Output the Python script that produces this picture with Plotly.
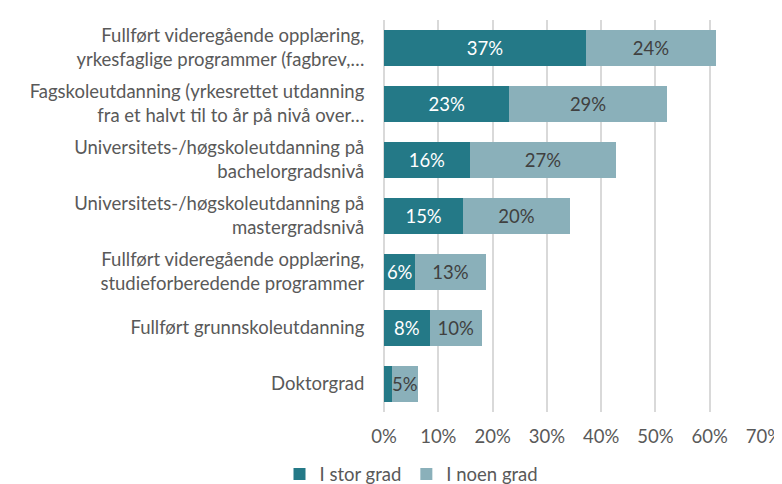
import plotly.graph_objects as go

categories = [
    "Fullført videregående opplæring,<br>yrkesfaglige programmer (fagbrev,…",
    "Fagskoleutdanning (yrkesrettet utdanning<br>fra et halvt til to år på nivå over…",
    "Universitets-/høgskoleutdanning på<br>bachelorgradsnivå",
    "Universitets-/høgskoleutdanning på<br>mastergradsnivå",
    "Fullført videregående opplæring,<br>studieforberedende programmer",
    "Fullført grunnskoleutdanning",
    "Doktorgrad",
]
stor_grad = [37.2, 23.1, 15.8, 14.6, 5.8, 8.4, 1.4]
noen_grad = [24.0, 29.0, 27.0, 19.6, 12.9, 9.6, 4.9]
series_names = ["I stor grad", "I noen grad"]
tick_vals = [0, 10, 20, 30, 40, 50, 60, 70]
tick_text = [f"{v}%" for v in tick_vals]

dark = "#247987"
light = "#8AB0BA"
grey = "#595959"
font_family = "Lato"
fs = 18.5

def labels(vals):
    return [f"{round(v)}%" if v >= 2 else "" for v in vals]

fig = go.Figure()
fig.add_trace(go.Bar(
    y=categories, x=stor_grad, orientation="h", name=series_names[0],
    marker=dict(color=dark, line=dict(width=0)),
    text=labels(stor_grad), textposition="inside", insidetextanchor="middle",
    constraintext="none",
    textfont=dict(color="white", size=fs, family=font_family),
    textangle=0,
))
fig.add_trace(go.Bar(
    y=categories, x=noen_grad, orientation="h", name=series_names[1],
    marker=dict(color=light, line=dict(width=0)),
    text=labels(noen_grad), textposition="inside", insidetextanchor="middle",
    constraintext="none",
    textfont=dict(color="#404040", size=fs, family=font_family),
    textangle=0,
))

fig.update_layout(
    width=774, height=476,
    barmode="stack", bargap=0.34,
    paper_bgcolor="white", plot_bgcolor="white",
    margin=dict(l=376, r=18, t=12, b=72, autoexpand=False),
    font=dict(family=font_family, color=grey, size=fs),
    xaxis=dict(
        range=[0, 70], tickvals=tick_vals, ticktext=tick_text,
        showgrid=True, gridcolor="#D9D9D9", gridwidth=2,
        zeroline=True, zerolinecolor="#D9D9D9", zerolinewidth=2,
        showline=False, ticks="outside", ticklen=8, tickcolor="rgba(0,0,0,0)",
        tickfont=dict(size=fs, color=grey), ticklabeloverflow="allow",
        fixedrange=True, automargin=False,
    ),
    yaxis=dict(
        categoryorder="array", categoryarray=categories, autorange="reversed",
        showgrid=False, ticks="outside", ticklen=15, tickcolor="rgba(0,0,0,0)",
        tickfont=dict(size=fs, color=grey), showline=False, automargin=False,
    ),
    legend=dict(
        orientation="h", x=-0.275, xanchor="left",
        yref="container", y=0.02, yanchor="middle",
        font=dict(size=fs, color=grey), traceorder="normal",
        itemwidth=30,
    ),
    showlegend=True,
)

fig.write_html("out.html")
